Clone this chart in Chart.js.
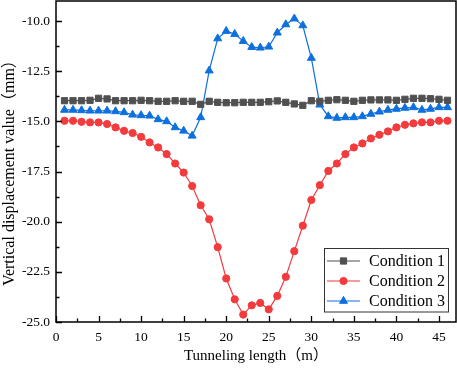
<!DOCTYPE html>
<html>
<head>
<meta charset="utf-8">
<script src="https://cdn.jsdelivr.net/npm/chart.js@4"></script>
<style>
html,body{margin:0;padding:0;background:#fff;}
#wrap{width:457px;height:369px;position:relative;}
</style>
</head>
<body>
<div id="wrap"><canvas id="c"></canvas></div>
<script>
const lengths = [1,2,3,4,5,6,7,8,9,10,11,12,13,14,15,16,17,18,19,20,21,22,23,24,25,26,27,28,29,30,31,32,33,34,35,36,37,38,39,40,41,42,43,44,45,46];
const condition1 = [-13.97,-13.97,-13.97,-13.95,-13.85,-13.88,-13.97,-13.97,-13.97,-13.95,-13.97,-14.0,-14.0,-13.97,-14.0,-14.0,-14.15,-14.0,-14.05,-14.07,-14.07,-14.05,-14.05,-14.05,-14.02,-13.98,-14.05,-14.13,-14.2,-13.97,-14.0,-13.95,-13.92,-13.95,-14.0,-13.95,-13.93,-13.93,-13.93,-13.95,-13.9,-13.85,-13.85,-13.87,-13.9,-13.95];
const condition2 = [-14.97,-14.97,-15.02,-15.05,-15.05,-15.13,-15.3,-15.47,-15.58,-15.77,-16.05,-16.3,-16.63,-17.1,-17.55,-18.22,-19.18,-19.88,-21.27,-22.83,-23.87,-24.63,-24.17,-24.05,-24.37,-23.7,-22.75,-21.47,-20.2,-18.92,-18.18,-17.47,-17.1,-16.63,-16.3,-16.1,-15.85,-15.67,-15.5,-15.3,-15.17,-15.1,-15.05,-15.05,-14.97,-14.97];
const condition3 = [-14.43,-14.43,-14.45,-14.47,-14.47,-14.47,-14.5,-14.55,-14.67,-14.7,-14.72,-14.9,-15.0,-15.3,-15.47,-15.72,-14.8,-12.47,-10.87,-10.5,-10.65,-11.0,-11.3,-11.33,-11.28,-10.58,-10.17,-9.88,-10.22,-11.84,-14.17,-14.75,-14.83,-14.8,-14.8,-14.75,-14.63,-14.52,-14.43,-14.38,-14.33,-14.3,-14.43,-14.38,-14.3,-14.3];
const seriesNames = ['Condition 1','Condition 2','Condition 3'];
const xTickValues = [0,5,10,15,20,25,30,35,40,45];
const xMinorValues = [2.5,7.5,12.5,17.5,22.5,27.5,32.5,37.5,42.5];
const yTickValues = [-25,-22.5,-20,-17.5,-15,-12.5,-10];
const yMinorValues = [-23.75,-21.25,-18.75,-16.25,-13.75,-11.25];
const xTitle = 'Tunneling length（m）';
const yTitle = 'Vertical displacement value（mm）';

const colors = ['#505050','#f33a3c','#0e70dd'];
const styles = ['rect','circle','triangle'];
const radii = [4.4,3.6,4.6];
const serif = "'Liberation Serif','Times New Roman','Noto Sans CJK SC',serif";

function pts(arr){ return lengths.map((x,i)=>({x:x,y:arr[i]})); }

const frameAndTicks = {
  id:'frameAndTicks',
  afterDatasetsDraw(chart){
    const ctx = chart.ctx, a = chart.chartArea;
    const xs = chart.scales.x, ys = chart.scales.y;
    ctx.save();
    ctx.strokeStyle = '#000';
    ctx.lineWidth = 1.3;
    ctx.beginPath();
    xTickValues.forEach(v=>{const p=Math.round(xs.getPixelForValue(v))+0.5; ctx.moveTo(p,a.bottom); ctx.lineTo(p,a.bottom-6);});
    xMinorValues.forEach(v=>{const p=Math.round(xs.getPixelForValue(v))+0.5; ctx.moveTo(p,a.bottom); ctx.lineTo(p,a.bottom-3.5);});
    yTickValues.forEach(v=>{const p=Math.round(ys.getPixelForValue(v))+0.5; ctx.moveTo(a.left,p); ctx.lineTo(a.left+6,p);});
    yMinorValues.forEach(v=>{const p=Math.round(ys.getPixelForValue(v))+0.5; ctx.moveTo(a.left,p); ctx.lineTo(a.left+3.5,p);});
    ctx.stroke();
    ctx.lineWidth = 1.5;
    ctx.strokeRect(a.left, a.top, a.right-a.left, a.bottom-a.top);
    ctx.restore();
  }
};

const yTitlePlugin = {
  id:'yTitlePlugin',
  afterDraw(chart){
    const ctx = chart.ctx;
    ctx.save();
    ctx.translate(9.5, 169);
    ctx.rotate(-Math.PI/2);
    ctx.fillStyle='#000';
    ctx.font = "16px "+serif;
    ctx.textAlign='center';
    ctx.textBaseline='middle';
    ctx.fillText(yTitle,0,0);
    ctx.restore();
  }
};

const boxLegend = {
  id:'boxLegend',
  afterDraw(chart){
    const ctx = chart.ctx;
    const bx=324, by=248.5, bw=124, bh=63.5;
    ctx.save();
    ctx.fillStyle='#fff';
    ctx.fillRect(bx,by,bw,bh);
    ctx.strokeStyle='#333';
    ctx.lineWidth=1;
    ctx.strokeRect(bx+0.5,by,bw,bh);
    chart.data.datasets.forEach((ds,i)=>{
      const cy = by+12.5+i*20;
      ctx.strokeStyle = ds.borderColor;
      ctx.lineWidth = 1.2;
      ctx.beginPath(); ctx.moveTo(327,cy); ctx.lineTo(360,cy); ctx.stroke();
      ctx.fillStyle = ds.backgroundColor;
      ctx.strokeStyle = ds.borderColor;
      ctx.lineWidth = 1;
      Chart.helpers.drawPoint(ctx,{pointStyle:ds.pointStyle,radius:ds.pointRadius,borderWidth:1},343.5,cy);
      ctx.fillStyle='#000';
      ctx.font = "16px "+serif;
      ctx.textBaseline='middle';
      ctx.textAlign='left';
      ctx.fillText(ds.label,369,cy+1);
    });
    ctx.restore();
  }
};

const datasets = [condition1,condition2,condition3].map((arr,i)=>({
  label: seriesNames[i],
  data: pts(arr),
  borderColor: colors[i],
  backgroundColor: colors[i],
  borderWidth: 1.2,
  pointStyle: styles[i],
  pointRadius: radii[i],
  pointHoverRadius: radii[i],
  pointBorderWidth: 1,
  tension: 0
}));

new Chart(document.getElementById('c'), {
  type:'line',
  data:{datasets:datasets},
  plugins:[frameAndTicks, boxLegend, yTitlePlugin],
  options:{
    responsive:true,
    maintainAspectRatio:false,
    animation:false,
    devicePixelRatio:1,
    layout:{autoPadding:false, padding:{top:1,right:1,left:0,bottom:0}},
    plugins:{legend:{display:false},tooltip:{enabled:false}},
    scales:{
      x:{
        type:'linear', min:0, max:47,
        afterBuildTicks(s){ s.ticks = xTickValues.map(v=>({value:v})); },
        afterFit(s){ s.height = 47; s.paddingLeft = 0; s.paddingRight = 0; },
        grid:{display:false, drawTicks:false},
        border:{display:false},
        ticks:{padding:7, color:'#000', font:{family:serif,size:13.5}, maxRotation:0, autoSkip:false,
          callback:(v)=>String(v)},
        title:{display:true, text:xTitle, color:'#000', font:{family:serif,size:15,lineHeight:1}, padding:{top:0,bottom:5}}
      },
      y:{
        type:'linear', min:-25, max:-9,
        afterBuildTicks(s){ s.ticks = yTickValues.map(v=>({value:v})); },
        afterFit(s){ s.width = 56; s.paddingTop = 0; s.paddingBottom = 0; },
        grid:{display:false, drawTicks:false},
        border:{display:false},
        ticks:{padding:6, color:'#000', font:{family:serif,size:13.5}, autoSkip:false,
          callback:(v)=>Number(v).toFixed(1)},
        title:{display:false, text:yTitle}
      }
    }
  }
});
</script>
</body>
</html>
